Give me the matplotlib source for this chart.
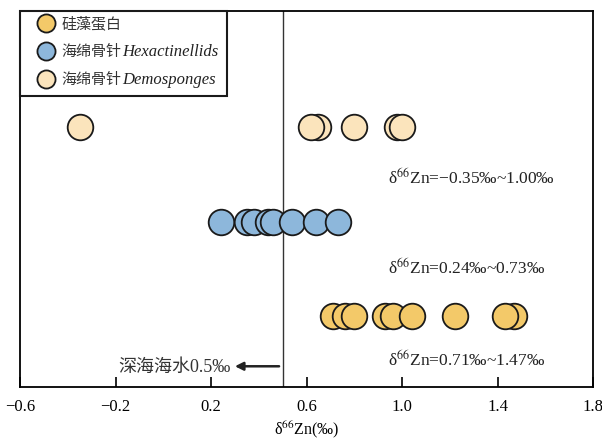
import matplotlib
matplotlib.use('Agg')
import matplotlib.pyplot as plt
from matplotlib.patches import Rectangle

plt.rcParams['font.family'] = ['Liberation Serif', 'Noto Sans CJK SC', 'DejaVu Sans']
plt.rcParams['mathtext.fontset'] = 'stix'
plt.rcParams['axes.unicode_minus'] = True

# data (delta66Zn, permil)
diatom = [0.71, 0.76, 0.80, 0.93, 0.96, 1.04, 1.22, 1.47, 1.43]
hexact = [0.24, 0.35, 0.38, 0.44, 0.46, 0.54, 0.64, 0.73]
demo = [-0.35, 0.65, 0.62, 0.80, 0.98, 1.00]
seawater = 0.5

names_cn = ['硅藻蛋白', '海绵骨针', '海绵骨针']
names_latin = ['', 'Hexactinellids', 'Demosponges']
colours = ['#F3C969', '#8DB7DB', '#FBE4BC']
ranges = ['δ$^{66}$Zn=−0.35‰~1.00‰', 'δ$^{66}$Zn=0.24‰~0.73‰', 'δ$^{66}$Zn=0.71‰~1.47‰']
xticks = [-0.6, -0.2, 0.2, 0.6, 1.0, 1.4, 1.8]

fig = plt.figure(figsize=(6.02, 4.39), dpi=100)
ax = fig.add_axes([0.0332, 0.116, 0.952, 0.857])

rows = [diatom, hexact, demo]
for i, vals in enumerate(rows):
    ax.scatter(vals, [i + 1] * len(vals), s=340, c=colours[i],
               edgecolors='#1a1a1a', linewidths=1.3, zorder=3)

ax.axvline(seawater, color='#333333', linewidth=1.0, zorder=2)

# range notes
ax.text(0.94, 2.47, ranges[0], fontsize=12.5, va='center', color='#222222')
ax.text(0.94, 1.52, ranges[1], fontsize=12.5, va='center', color='#222222')
ax.text(0.94, 0.55, ranges[2], fontsize=12.5, va='center', color='#222222')

ax.annotate('', xy=(0.30, 0.47), xytext=(0.485, 0.47),
            arrowprops=dict(arrowstyle='-|>', color='#222222', lw=1.8,
                            mutation_scale=12, shrinkA=0, shrinkB=0))
ax.text(0.283, 0.47, '深海海水0.5‰', fontsize=13, ha='right', va='center',
        color='#333333')

ax.set_xlim(-0.6, 1.8)
ax.set_ylim(0.25, 4.23)
ax.set_xticks(xticks)
ax.set_xticklabels(['%.1f' % t if t >= 0 else '−%.1f' % -t for t in xticks],
                   fontsize=12)
ax.set_yticks([])
ax.tick_params(axis='x', direction='in', length=7, width=1.2, pad=8)
for sp in ax.spines.values():
    sp.set_linewidth(1.3)
ax.set_xlabel('δ$^{66}$Zn(‰)', fontsize=11.5, labelpad=3)

# hand-made legend box (mixed Chinese + italic latin labels)
ax.add_patch(Rectangle((0, 1), 0.362, -0.226, transform=ax.transAxes,
                       facecolor='white', edgecolor='#1a1a1a', linewidth=1.5,
                       zorder=5, clip_on=False))
leg_y = [0.968, 0.894, 0.819]
for i in range(3):
    ax.scatter([0.045], [leg_y[i]], s=170, c=colours[i], edgecolors='#1a1a1a',
               linewidths=1.3, transform=ax.transAxes, zorder=6, clip_on=False)
    t = ax.text(0.073, leg_y[i], names_cn[i], fontsize=10.8, va='center',
                transform=ax.transAxes, zorder=6, color='#333333')
    if names_latin[i]:
        ax.annotate(names_latin[i], xy=(1, 0.5), xycoords=t, va='center',
                    fontsize=12, style='italic', zorder=6, color='#222222')

fig.savefig('out.png', dpi=100)
